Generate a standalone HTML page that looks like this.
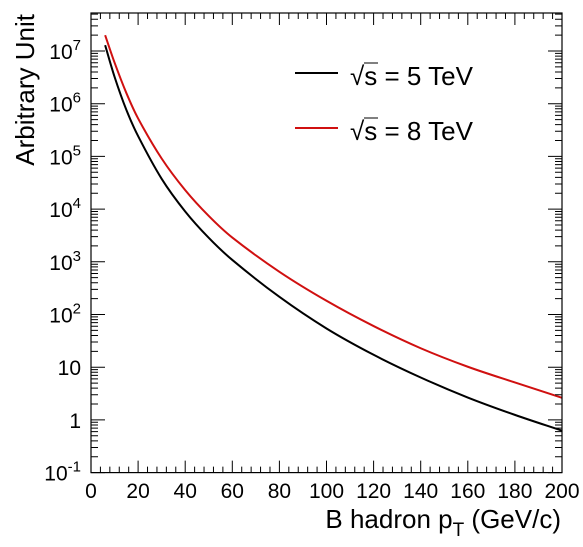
<!DOCTYPE html>
<html><head><meta charset="utf-8"><style>
html,body{margin:0;padding:0;background:#fff;}
svg{display:block;font-family:"Liberation Sans",Arial,sans-serif;}
</style></head><body>
<svg id="c" width="583" height="547">
<rect x="0" y="0" width="583" height="547" fill="#fff"/>
<g id="curves"></g>
<rect x="91" y="13" width="471" height="459.6" fill="none" stroke="#000" stroke-width="1.2"/>
<g id="ticks"></g>
<g id="labels" font-size="21"></g>
<text x="34" y="14" font-size="26" transform="rotate(-90 34 14)" text-anchor="end">Arbitrary Unit</text>
<text x="561" y="528" font-size="26" text-anchor="end">B hadron p<tspan font-size="19" dy="8">T</tspan><tspan dy="-8"> (GeV/c)</tspan></text>
<g>
<line x1="295" y1="73" x2="338" y2="73" stroke="#000" stroke-width="2"/>
<text x="350" y="85" font-size="26">√s = 5 TeV</text>
<line x1="364" y1="63" x2="378" y2="63" stroke="#000" stroke-width="1"/>
<line x1="295" y1="128" x2="338" y2="128" stroke="#d01010" stroke-width="2"/>
<text x="350" y="140" font-size="26">√s = 8 TeV</text>
<line x1="364" y1="118" x2="378" y2="118" stroke="#000" stroke-width="1"/>
</g>
</svg>
<script>
const pt = [6,10,15,20,30,40,50,60,80,100,120,140,160,180,200];
const s5 = [1.29e7,3.24e6,7.67e5,2.43e5,3.76e4,9020,2850,1084,216,54.3,17.2,6.38,2.66,1.245,0.624];
const s8 = [2.0e7,6.03e6,1.60e6,5.25e5,9.12e4,2.29e4,7410,2880,646,182,60.3,22.9,10.2,5.13,2.63];
const xTicks = [0,20,40,60,80,100,120,140,160,180,200];
const yDecades = [-1,0,1,2,3,4,5,6,7];
const yTickLabels = ["10^-1","1","10","10^2","10^3","10^4","10^5","10^6","10^7"];

const NS="http://www.w3.org/2000/svg";
const X0=91,X1=562,Y0=472.6,DEC=52.7;
function xs(v){return X0+(v-0)/200*(X1-X0);}
function ys(v){return Y0-(Math.log10(v)+1)*DEC;}
function mk(t,a,p){const e=document.createElementNS(NS,t);for(const k in a)e.setAttribute(k,a[k]);p.appendChild(e);return e;}
function path(xv,yv){
  const P=xv.map((x,i)=>[xs(x),ys(yv[i])]);
  const n=P.length;
  const m=P.map((p,i)=>{
    const a=P[Math.max(0,i-1)],b=P[Math.min(n-1,i+1)];
    return (b[1]-a[1])/(b[0]-a[0]);
  });
  let d="M"+P[0][0].toFixed(2)+","+P[0][1].toFixed(2);
  for(let i=0;i<n-1;i++){
    const p1=P[i],p2=P[i+1],h=(p2[0]-p1[0])/3;
    d+=` C${(p1[0]+h).toFixed(2)},${(p1[1]+m[i]*h).toFixed(2)} ${(p2[0]-h).toFixed(2)},${(p2[1]-m[i+1]*h).toFixed(2)} ${p2[0].toFixed(2)},${p2[1].toFixed(2)}`;
  }
  return d;
}
const cg=document.getElementById('curves');
const l5=mk('path',{d:path(pt,s5),fill:'none',stroke:'#000','stroke-width':2},cg);


const l8=mk('path',{d:path(pt,s8),fill:'none',stroke:'#d01010','stroke-width':2},cg);



const tg=document.getElementById('ticks');
let td="";
for(let v=0;v<=200;v+=4){const x=xs(v);const L=(v%20===0)?12:6;td+=`M${x},${Y0}v${-L}M${x},13v${L}`;}
for(let dd=-1;dd<=7;dd++){for(let k=1;k<=9;k++){const v=k*Math.pow(10,dd);const y=ys(v);if(y<13||y>Y0)continue;const L=k===1?14:7;td+=`M${X0},${y}h${L}M${X1},${y}h${-L}`;}}
const tp=mk('path',{d:td,stroke:'#000','stroke-width':1,fill:'none'},tg);



const lg=document.getElementById('labels');
xTicks.forEach(v=>{
  const t=mk('text',{x:xs(v),y:498,'text-anchor':'middle'},lg);
  
  
  t.textContent=v;
});
yDecades.forEach((dd,i)=>{
  const lab=yTickLabels[i];const y=ys(Math.pow(10,dd))+8;
  const t=mk('text',{x:81,y:y,'text-anchor':'end'},lg);
  
  
  if(lab.indexOf('^')>=0){
    const [b,e]=lab.split('^');
    t.textContent=b;
    const s=mk('tspan',{dy:-9,'font-size':15},t);s.textContent=e;
  } else t.textContent=lab;
});
</script>
</body></html>
